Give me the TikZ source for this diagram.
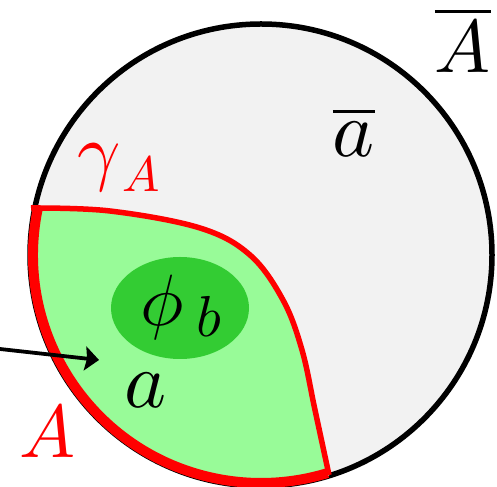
\documentclass[tikz,border=0pt]{standalone}
\usetikzlibrary{arrows.meta,shapes.geometric}
\definecolor{bggray}{HTML}{F2F2F2}
\definecolor{lgreen}{HTML}{98FB98}
\definecolor{dgreen}{HTML}{33CC33}
\newcommand\mysz[2]{\scalebox{#1}{$#2$}}
\begin{document}
\begin{tikzpicture}[x=1bp,y=1bp,
  lbl/.style={inner sep=0pt, outer sep=0pt},
  redlbl/.style={lbl, text=red},
  rim/.style={draw=black, line width=5.5bp, fill=bggray},
  gammaline/.style={draw=red, line width=5.5bp, line join=round},
  edgeA/.style={draw=red, line width=10bp},
  arrowline/.style={draw=black, line width=3.8bp, -{Stealth[length=14bp,width=24bp,inset=2bp]}}]
\useasboundingbox (0,0) rectangle (497,487);
\coordinate (C) at (261,232);
% outer disc
\path[rim] (C) circle[radius=231];
% green region a
\begin{scope}
  \clip (C) circle[radius=231];
  \fill[lgreen] plot[smooth, tension=0.6] coordinates {(31,279) (110,276) (200,259) (250,232) (283,187) (302,137) (315,77) (329,12)}
     -- (345,-30) -- (-30,-30) -- (-30,279) -- cycle;
\end{scope}
% thick boundary A
\draw[edgeA] (C) ++(168.5:228) arc[start angle=168.5, end angle=287, radius=228];
% gamma_A
\draw[gammaline] plot[smooth, tension=0.6] coordinates {(31,279) (110,276) (200,259) (250,232) (283,187) (302,137) (315,77) (329,12)};
% phi_b blob
\node[ellipse, fill=dgreen, minimum width=138bp, minimum height=102bp, inner sep=0pt] (blob) at (180,179) {};
% labels
\node[lbl, anchor=base west] (phib) at (140,161) {\mysz{7.3}{\phi}\kern13bp\raisebox{-11bp}{\mysz{5.8}{b}}};
\node[lbl, anchor=base] (la) at (146,79) {\mysz{8}{a}};
\node[lbl, anchor=base] (lab) at (354,330) {\mysz{8}{\overline{a}}};
\node[lbl, anchor=base] (lAb) at (463,414) {\mysz{7.5}{\overline{A}}};
\node[redlbl, anchor=base] (lA) at (48,29) {\mysz{7.5}{A}};
\node[redlbl, anchor=base west] (lgam) at (77,310) {\mysz{7.6}{\gamma}\kern2bp\raisebox{-15bp}{\mysz{5}{A}}};
% arrow
\coordinate (arrS) at (0,138);
\coordinate (arrE) at (99,127);
\draw[arrowline] (arrS) -- (arrE);
\end{tikzpicture}
\end{document}
